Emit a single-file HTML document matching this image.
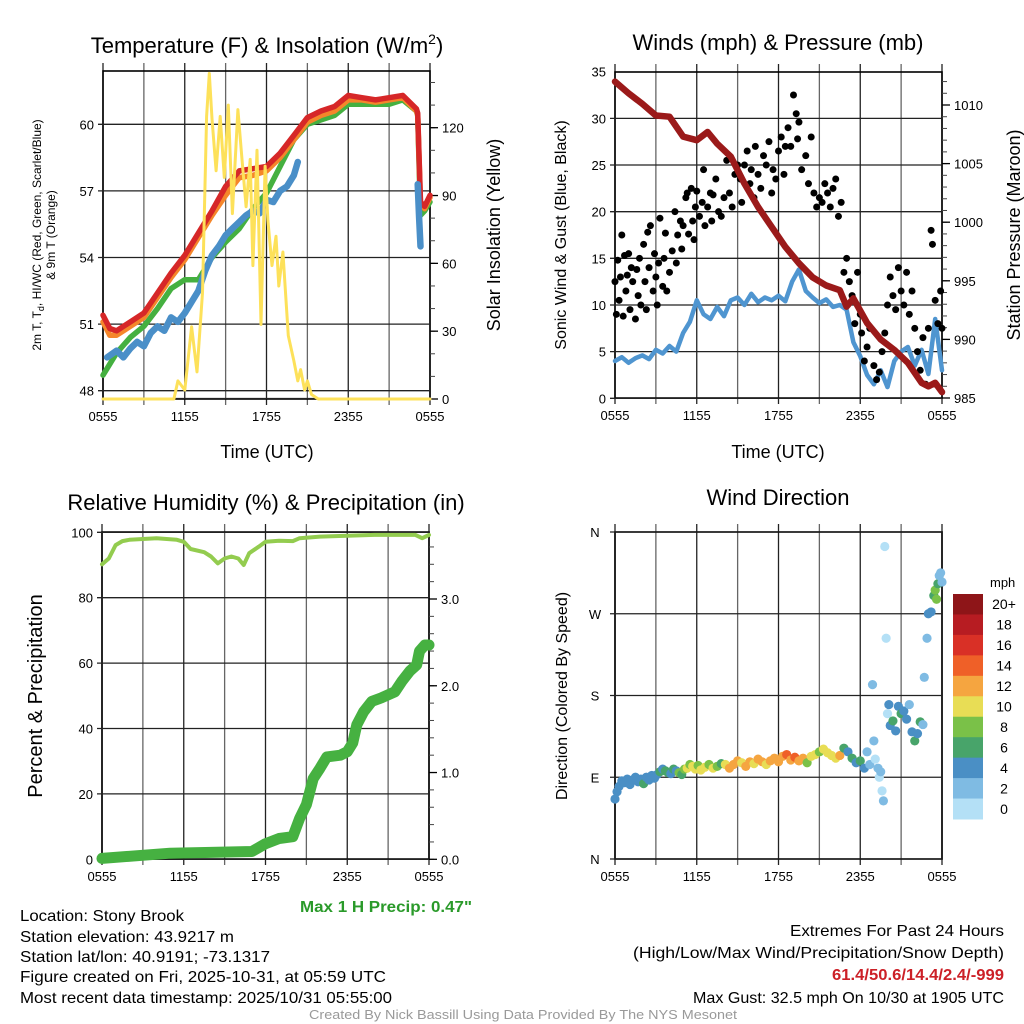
<!DOCTYPE html>
<html><head><meta charset="utf-8"><style>
html,body{margin:0;padding:0;background:#fff}
svg{display:block;font-family:"Liberation Sans",Arial,sans-serif}
</style></head><body>
<svg id="c" width="1024" height="1024" viewBox="0 0 1024 1024" xmlns="http://www.w3.org/2000/svg">
<g id="g"></g>
<g fill="#000">
<text x="267" y="53" font-size="22" text-anchor="middle">Temperature (F) &amp; Insolation (W/m<tspan font-size="14" dy="-9">2</tspan><tspan dy="9">)</tspan></text>
<text x="778" y="50" font-size="22" text-anchor="middle">Winds (mph) &amp; Pressure (mb)</text>
<text x="266" y="510" font-size="22" text-anchor="middle">Relative Humidity (%) &amp; Precipitation (in)</text>
<text x="778" y="505" font-size="22" text-anchor="middle">Wind Direction</text>
<text x="267" y="458" font-size="18" text-anchor="middle">Time (UTC)</text>
<text x="778" y="458" font-size="18" text-anchor="middle">Time (UTC)</text>
<text transform="translate(41,235) rotate(-90)" font-size="12" text-anchor="middle">2m T, T<tspan font-size="9" dy="3">d</tspan><tspan dy="-3">, HI/WC (Red, Green, Scarlet/Blue)</tspan></text>
<text transform="translate(55,235) rotate(-90)" font-size="12" text-anchor="middle">&amp; 9m T (Orange)</text>
<text transform="translate(500,235) rotate(-90)" font-size="18" text-anchor="middle">Solar Insolation (Yellow)</text>
<text transform="translate(566,235) rotate(-90)" font-size="16" text-anchor="middle">Sonic Wind &amp; Gust (Blue, Black)</text>
<text transform="translate(1020,235) rotate(-90)" font-size="18" text-anchor="middle">Station Pressure (Maroon)</text>
<text transform="translate(42,696) rotate(-90)" font-size="20" text-anchor="middle">Percent &amp; Precipitation</text>
<text transform="translate(567,696) rotate(-90)" font-size="16" text-anchor="middle">Direction (Colored By Speed)</text>
</g>
<g font-size="16">
<text x="20" y="921" textLength="164" lengthAdjust="spacingAndGlyphs">Location: Stony Brook</text>
<text x="20" y="942" textLength="214" lengthAdjust="spacingAndGlyphs">Station elevation: 43.9217 m</text>
<text x="20" y="962" textLength="250" lengthAdjust="spacingAndGlyphs">Station lat/lon: 40.9191; -73.1317</text>
<text x="20" y="982" textLength="366" lengthAdjust="spacingAndGlyphs">Figure created on Fri, 2025-10-31, at 05:59 UTC</text>
<text x="20" y="1003" textLength="372" lengthAdjust="spacingAndGlyphs">Most recent data timestamp: 2025/10/31 05:55:00</text>
<text x="523" y="1019" font-size="13" fill="#999" text-anchor="middle" textLength="428" lengthAdjust="spacingAndGlyphs">Created By Nick Bassill Using Data Provided By The NYS Mesonet</text>
<text x="472" y="912" font-weight="bold" fill="#2a9a2a" text-anchor="end" textLength="172" lengthAdjust="spacingAndGlyphs">Max 1 H Precip: 0.47"</text>
<text x="1004" y="936" text-anchor="end" textLength="214" lengthAdjust="spacingAndGlyphs">Extremes For Past 24 Hours</text>
<text x="1004" y="958" text-anchor="end" textLength="371" lengthAdjust="spacingAndGlyphs">(High/Low/Max Wind/Precipitation/Snow Depth)</text>
<text x="1004" y="980" text-anchor="end" font-weight="bold" fill="#cc2027" textLength="172" lengthAdjust="spacingAndGlyphs">61.4/50.6/14.4/2.4/-999</text>
<text x="1004" y="1003" text-anchor="end" textLength="311" lengthAdjust="spacingAndGlyphs">Max Gust: 32.5 mph On 10/30 at 1905 UTC</text>
</g>
</svg>
<script>
// ---- data (hours since 0555 UTC) ----
const timeTickLabels = ["0555","1155","1755","2355","0555"];
const tempT = [0,0.5,1,2,3,4,5,6,7,8,9,10,11,12,13,14,15,16,17,18,19,20,21,22,23,23.1,23.3,23.6,24];
const tempRed = [51.4,50.8,50.7,51.1,51.5,52.4,53.3,54.1,55.1,56.1,57.2,57.9,58.0,58.1,58.7,59.5,60.3,60.6,60.8,61.3,61.2,61.1,61.2,61.3,60.7,60.5,56.5,56.3,56.8];
const tempOrange = [51.1,50.5,50.5,50.9,51.3,52.2,53.1,53.9,54.9,55.9,56.8,57.6,57.7,57.9,58.5,59.3,60.1,60.4,60.6,61.1,61.1,61.0,61.1,61.2,60.6,60.4,56.4,56.2,56.7];
const tempGreen = [48.7,49.2,49.7,50.4,50.9,51.7,52.6,53.0,53.0,54.0,54.7,55.3,56.2,56.9,58.1,59.3,60.0,60.2,60.4,60.9,60.9,60.9,60.9,61.1,60.6,60.4,55.9,56.1,56.5];
const hiT = [0.3,1,1.5,2,2.5,3,3.5,4,4.5,5,5.5,6,6.5,7,7.5,8,8.5,9,9.5,10,10.5,11,11.5,12,12.5,13,13.5,14,14.3];
const hiV = [49.5,49.8,49.5,49.9,50.2,50.0,50.6,50.9,50.7,51.3,51.1,51.5,52.0,52.5,53.4,54.1,54.5,55.0,55.3,55.6,55.9,56.1,56.0,56.6,56.5,57.0,57.2,57.7,58.3];
const hiT2 = [23.1,23.2,23.3];
const hiV2 = [57.3,55.8,54.5];
const solarT = [0,5.2,5.5,6,6.5,6.9,7.3,7.6,7.8,8,8.3,8.6,8.9,9.2,9.5,9.9,10.2,10.5,10.8,11,11.3,11.6,11.9,12.1,12.4,12.7,12.9,13.2,13.6,14,14.3,14.5,14.8,15,15.3,15.8,24];
const solarW = [0,0,8,4,32,12,47,125,144,124,101,125,98,130,82,128,106,85,106,59,110,33,103,79,59,72,50,65,28,17,8,13,4,8,2,0,0];
const windT = [0,0.5,1,1.5,2,2.5,3,3.5,4,4.5,5,5.5,6,6.5,7,7.5,8,8.5,9,9.5,10,10.5,11,11.5,12,12.5,13,13.5,14,14.5,15,15.5,16,16.5,17,17.5,18,18.5,19,19.5,20,20.5,21,21.5,22,22.5,23,23.5,24];
const windS = [4.0,4.4,3.8,4.3,4.6,4.2,5.2,4.8,5.6,5.0,7.0,8.2,10.5,9.0,8.5,9.8,8.8,10.5,10.8,10.0,11.2,10.3,10.8,10.5,11.0,10.4,12.5,13.8,11.5,10.8,10.2,10.6,9.8,10.0,9.5,6.0,4.5,2.5,1.5,3.0,1.2,4.0,5.0,5.5,3.5,5.2,2.6,8.5,3.0];
const gustT = [0.0,0.1,0.2,0.3,0.4,0.5,0.6,0.7,0.8,0.9,1.0,1.1,1.2,1.3,1.5,1.6,1.7,1.8,1.9,2.1,2.2,2.3,2.4,2.5,2.6,2.8,2.9,3.0,3.1,3.2,3.3,3.5,3.6,3.7,3.8,4.0,4.2,4.4,4.5,4.6,4.8,4.9,5.0,5.2,5.3,5.4,5.6,5.7,5.8,5.9,6.0,6.2,6.4,6.5,6.6,6.8,7.0,7.1,7.2,7.4,7.6,7.8,8.0,8.2,8.4,8.6,8.8,9.0,9.2,9.3,9.5,9.7,9.9,10.0,10.2,10.3,10.5,10.7,10.9,11.1,11.3,11.5,11.6,11.8,12.0,12.2,12.4,12.5,12.7,12.9,13.1,13.3,13.4,13.5,13.7,14.0,14.2,14.4,14.6,14.8,15.0,15.2,15.4,15.6,15.8,16.0,16.2,16.4,16.6,16.8,17.0,17.2,17.4,17.6,17.8,18.0,18.1,18.3,18.5,18.7,19.0,19.2,19.4,19.6,19.8,20.0,20.2,20.4,20.6,20.8,21.0,21.2,21.4,21.6,21.8,22.0,22.2,22.4,22.6,22.8,23.0,23.2,23.3,23.5,23.7,23.9,24.0];
const gustV = [12.5,9,14.8,10.5,13,17.5,8.8,15.3,11.5,13.2,15.5,9.5,14,12.5,8.5,13.8,11,15,10,16.5,12.5,9.5,17.8,14,18.5,11.5,15.5,13,10,14.5,19.3,12,15,17.7,11.5,13.5,15.8,20,14.5,17.5,19,16,18.5,21.5,22,17.6,22.5,19,17,20.5,22.2,19.5,21,24.5,18.5,20.5,22,19,21.8,23.5,20,19.5,21.5,25.5,22,20.5,24,25,23.5,21,25,26.5,23,24.5,21.5,27,24,22.5,26,25,27.5,22,24.5,23.5,26.5,28,24,27,29,27,32.5,30.5,27.8,29.6,24.5,26,23,28,22,20.5,21.5,21,23,22,20.5,22.5,23.5,19.5,21,13.5,15,12.5,11,8,13.5,9,7,4,5.5,7.5,3.5,2,2.8,5,7,10,13,11,9.5,14,11.5,10,13.5,9,11.5,7.5,5,3,6.5,1.5,7.5,18,16.5,10.5,8,11.5,7.5];
const presT = [0,1,2,3,4,5,6,6.8,7.5,8.5,9.5,10.5,11.5,12.5,13.5,14.5,15.5,16.5,17,17.5,18.5,19.5,20.5,21.5,22.5,23,23.5,24];
const presV = [1012.0,1011.0,1010.1,1009.1,1009.0,1007.3,1007.0,1007.7,1006.7,1005.6,1003.3,1001.3,999.6,997.9,996.5,995.3,994.6,994.2,992.8,993.5,991.4,990.0,989.1,988.0,986.3,986.0,986.3,985.5];
const rhT = [0,0.5,1,1.5,2,4,5.5,6,6.5,7.5,8,8.5,9,9.5,10,10.4,10.8,11.5,12,13,14,14.5,16,20,23,23.5,24];
const rhV = [90.2,92,96.1,97.3,97.7,98.2,97.7,97.1,94.9,93.9,92.6,90.5,92,92.6,92,90,93.6,95.6,97.1,97.4,97.3,98.2,98.7,99.2,99.2,98.2,99.2];
const precipT = [0,5,11,12,13,14,14.5,15,15.5,16,16.5,17.5,18,18.4,18.7,19.2,19.8,20.5,21.5,22,22.6,23.1,23.3,23.7,24];
const precipV = [0.01,0.07,0.09,0.18,0.24,0.26,0.47,0.63,0.93,1.05,1.18,1.2,1.24,1.34,1.55,1.70,1.82,1.86,1.93,2.05,2.17,2.24,2.4,2.47,2.47];
const dirT = [0,0.15,0.3,0.5,0.7,0.9,1.1,1.3,1.5,1.7,1.9,2.1,2.3,2.5,2.7,2.9,3.1,3.3,3.5,3.7,3.9,4.1,4.3,4.5,4.7,4.9,5.1,5.3,5.5,5.7,5.9,6.1,6.3,6.6,6.9,7.2,7.5,7.8,8.1,8.4,8.7,9.0,9.3,9.6,9.9,10.2,10.5,10.8,11.1,11.4,11.7,12.0,12.3,12.6,12.9,13.2,13.5,13.8,14.1,14.4,14.7,15.0,15.3,15.6,15.9,16.2,16.5,16.8,17.1,17.4,17.7,18.0,18.3,18.5,18.7,18.9,19.0,19.1,19.3,19.4,19.5,19.6,19.7,19.8,19.9,20.0,20.1,20.2,20.4,20.6,20.8,21.0,21.2,21.4,21.6,21.8,22.0,22.2,22.4,22.6,22.7,22.9,23.0,23.2,23.4,23.5,23.6,23.7,23.8,23.9,24.0];
const dirD = [66,74,80,86,84,88,82,87,90,85,88,83,90,87,92,89,93,96,99,97,95,94,99,97,95,93,99,100,104,102,99,103,98,101,104,100,102,105,104,100,104,108,106,102,107,105,110,107,104,108,111,107,113,115,109,112,108,111,106,113,115,118,121,117,114,111,114,122,118,111,106,108,100,118,104,192,130,110,100,90,96,75,64,344,243,160,170,147,152,141,168,160,163,154,170,140,130,138,151,148,200,243,270,272,290,296,286,303,312,315,305];
const dirS = [4,4,4,4,4,4,4,4,4,4,4,6,4,4,4,4,4,6,4,6,6,4,6,4,8,6,8,10,8,10,10,8,10,10,8,10,8,6,10,12,12,12,10,12,12,10,12,12,10,12,12,12,12,14,12,14,12,12,8,10,10,8,10,10,10,10,12,6,4,6,4,6,4,2,2,2,2,0,2,0,2,0,2,0,0,0,4,4,6,4,4,6,4,4,2,4,6,4,6,2,2,2,4,4,6,8,8,6,2,2,2];
const speedBinLabels = ["0","2","4","6","8","10","12","14","16","18","20+"];
const speedColors = ["#b4e0f6","#7fbbe3","#4a8fc5","#48a46a","#7ac148","#e8dd55","#f5a540","#ef6028","#d93026","#b71c22","#8e1518"];
const tempTicks = [48,51,54,57,60];
const solarTicks = [0,30,60,90,120];
const windTicks = [0,5,10,15,20,25,30,35];
const presTicks = [985,990,995,1000,1005,1010];
const rhTicks = [0,20,40,60,80,100];
const precipTicks = [0.0,1.0,2.0,3.0];
const dirTickLabels = ["N","E","S","W","N"];

const NS="http://www.w3.org/2000/svg";
const G=document.getElementById('g');
function el(tag,attrs,parent){const e=document.createElementNS(NS,tag);for(const k in attrs)e.setAttribute(k,attrs[k]);(parent||G).appendChild(e);return e;}
function lin(d0,d1,r0,r1){return v=>r0+(v-d0)*(r1-r0)/(d1-d0);}
const P1={L:103,R:430,T:71,B:399},P2={L:615,R:942,T:72,B:398},P3={L:102,R:429,T:532,B:859},P4={L:615,R:942,T:532,B:859};
const x1=lin(0,24,P1.L,P1.R),x2=lin(0,24,P2.L,P2.R),x3=lin(0,24,P3.L,P3.R),x4=lin(0,24,P4.L,P4.R);
const yTemp=lin(48,60,390.7,124.3),ySolar=lin(0,120,399,127.7);
const yWind=lin(0,35,398.3,71.7),yPres=lin(985,1010,398,105);
const yRH=lin(0,100,859.3,532.3),yPrecip=lin(0,3,859.3,599);
const yDir=lin(0,360,859,532);

function frame(P,xs,name){
  const g=el('g',{});
  
  
  for(let h=0;h<=24;h+=3){const x=xs(h);el('line',{x1:x,x2:x,y1:P.T-8,y2:P.B+6,stroke:(h%6? '#666':'#222'),'stroke-width':1.3},g);}
  const r=el('rect',{x:P.L,y:P.T,width:P.R-P.L,height:P.B-P.T,fill:'none',stroke:'#000','stroke-width':1.6},g);
  
  
  timeTickLabels.forEach((lab,i)=>{const t=el('text',{x:xs(i*6),y:P.B+22,'font-size':13,'text-anchor':'middle'},g);t.textContent=lab;
    
    });
}
function hgrid(P,vals,ys,col){vals.forEach(v=>{el('line',{x1:P.L-5,x2:P.R,y1:ys(v),y2:ys(v),stroke:col||'#222','stroke-width':1.3});});}
function leftLabels(P,vals,ys,fmt,name){vals.forEach(v=>{const t=el('text',{x:P.L-9,y:ys(v)+5,'font-size':13,'text-anchor':'end'});t.textContent=fmt?fmt(v):v;
  
  });}
function rightAxis(P,vals,ys,minor,lo,hi,fmt,name){
  for(let v=lo;v<=hi+1e-9;v+=minor){const y=ys(v);if(y<P.T-1||y>P.B+1)continue;el('line',{x1:P.R,x2:P.R+5,y1:y,y2:y,stroke:'#444','stroke-width':1});}
  vals.forEach(v=>{el('line',{x1:P.R,x2:P.R+8,y1:ys(v),y2:ys(v),stroke:'#000','stroke-width':1.3});
    const t=el('text',{x:P.R+12,y:ys(v)+5,'font-size':13});t.textContent=fmt?fmt(v):v;
    
    });
}
function path(T,V,xs,ys,stroke,w,name){
  let d='';T.forEach((t,i)=>{d+=(i?'L':'M')+xs(t).toFixed(1)+','+ys(V[i]).toFixed(1);});
  const p=el('path',{d:d,fill:'none',stroke:stroke,'stroke-width':w,'stroke-linejoin':'round','stroke-linecap':'round'});
  
  
  return p;
}

// Panel 1
frame(P1,x1,'temperature');
hgrid(P1,tempTicks,yTemp);
el('line',{x1:P1.L,x2:P1.R,y1:ySolar(0)-0.5,y2:ySolar(0)-0.5,stroke:'#222','stroke-width':1.3});
leftLabels(P1,tempTicks,yTemp,null,'temperature-tick-label');
rightAxis(P1,solarTicks,ySolar,10,0,140,null,'solar-tick-label');
path(tempT,tempGreen,x1,yTemp,'#45b040',5.5,'dewpoint-line');
path(tempT,tempOrange,x1,yTemp,'#f5862a',5.5,'temp-9m-line');
path(tempT,tempRed,x1,yTemp,'#d62728',5.5,'temp-2m-line');
path(hiT,hiV,x1,yTemp,'#4a8fc8',6.5,'heat-index-line');
path(hiT2,hiV2,x1,yTemp,'#4a8fc8',6.5,'heat-index-line-end');
path(solarT,solarW,x1,ySolar,'#fde15a',3,'solar-insolation-line');

// Panel 2
frame(P2,x2,'winds');
hgrid(P2,windTicks.slice(0,7),yWind);
leftLabels(P2,windTicks,yWind,null,'wind-tick-label');
rightAxis(P2,presTicks,yPres,1,985,1012,null,'pressure-tick-label');
path(windT,windS,x2,yWind,'#4f95d0',4.5,'sonic-wind-line');
gustT.forEach((t,i)=>{const c=el('circle',{cx:x2(t),cy:yWind(gustV[i]),r:3.5,fill:'#000'});
  
  });
path(presT,presV,x2,yPres,'#9b1a1a',6.5,'pressure-line');

// Panel 3
frame(P3,x3,'humidity');
hgrid(P3,rhTicks,yRH);
leftLabels(P3,rhTicks,yRH,null,'humidity-tick-label');
rightAxis(P3,precipTicks,yPrecip,0.2,0,3.6,v=>v.toFixed(1),'precip-tick-label');
path(rhT,rhV,x3,yRH,'#93cc4f',4,'relative-humidity-line');
path(precipT,precipV,x3,yPrecip,'#46b141',11,'precipitation-line');

// Panel 4
frame(P4,x4,'wind-direction');
hgrid(P4,[0,90,180,270,360],yDir);
dirTickLabels.forEach((lab,i)=>{const t=el('text',{x:P4.L-20,y:yDir(i*90)+5,'font-size':13,'text-anchor':'middle'});t.textContent=lab;
  
  });
dirT.forEach((t,i)=>{const s=dirS[i];const bin=Math.min(10,Math.floor(s/2));
  const c=el('circle',{cx:x4(t),cy:yDir(dirD[i]),r:4.6,fill:speedColors[bin]});
  
  });
// colorbar
const cbL=953,cbT=594,cbH=225/11;
const mph=el('text',{x:990,y:587,'font-size':13});mph.textContent='mph';


speedColors.forEach((col,i)=>{const k=10-i;const y=cbT+i*cbH;
  const r=el('rect',{x:cbL,y:y,width:30,height:cbH+0.5,fill:speedColors[k]});
  
  
  const t=el('text',{x:1004,y:y+cbH/2+5,'font-size':14,'text-anchor':'middle'});t.textContent=speedBinLabels[k];
  
  });
</script>
</body></html>
